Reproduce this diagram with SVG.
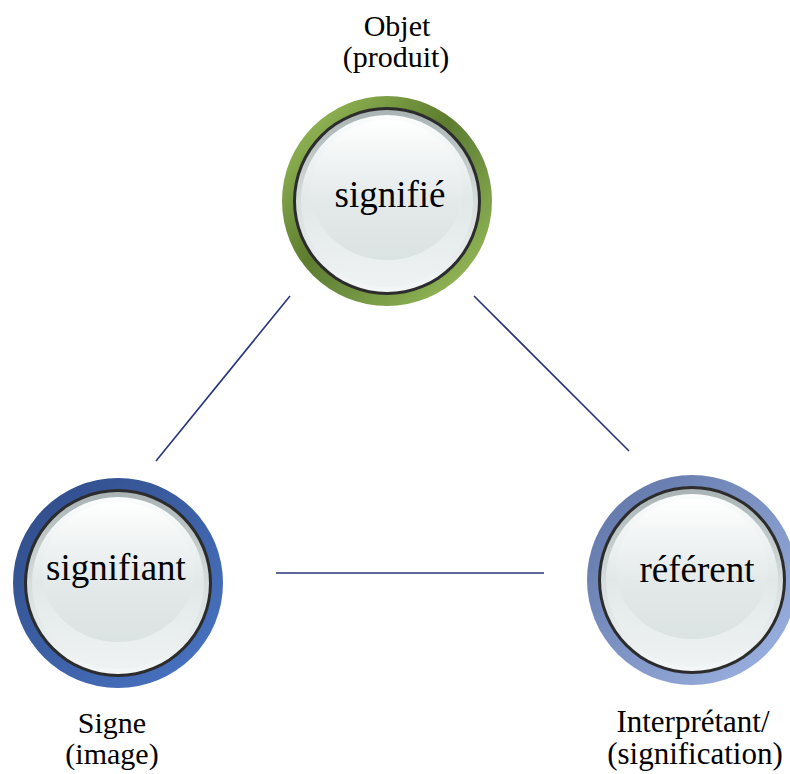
<svg xmlns="http://www.w3.org/2000/svg" width="790" height="774" viewBox="0 0 790 774">
<defs>
<style>
.lbl{font-size:30px;fill:#000;text-anchor:middle}
.lbl2{font-size:31px;fill:#000;text-anchor:middle}
.nt{font-size:37px;fill:#000;text-anchor:middle}
.edge{stroke:#27357a;stroke-width:1.6;fill:none}
.dark{fill:#2c2c2c}
.bevel{fill:url(#bevel)}
.face{fill:url(#face)}
.hl{fill:url(#hl)}
</style>
<linearGradient id="gGreen" x1="0" y1="0" x2="1" y2="1">
<stop offset="0" stop-color="#a2c862"/>
<stop offset="0.45" stop-color="#5d7c2e"/>
<stop offset="0.55" stop-color="#66873a"/>
<stop offset="1" stop-color="#9fc55e"/>
</linearGradient>
<linearGradient id="gBlue" x1="0" y1="0" x2="1" y2="1">
<stop offset="0" stop-color="#2f4a85"/>
<stop offset="1" stop-color="#4a76c6"/>
</linearGradient>
<linearGradient id="gLight" x1="0" y1="0" x2="1" y2="1">
<stop offset="0" stop-color="#5c72a4"/>
<stop offset="1" stop-color="#a0b6e6"/>
</linearGradient>
<linearGradient id="bevel" x1="0" y1="0" x2="0" y2="1">
<stop offset="0" stop-color="#a9b3b3"/>
<stop offset="0.5" stop-color="#d6dddd"/>
<stop offset="1" stop-color="#f4f7f7"/>
</linearGradient>
<linearGradient id="face" x1="0" y1="0" x2="0" y2="1">
<stop offset="0" stop-color="#fbfdfd"/>
<stop offset="0.5" stop-color="#e2e8e8"/>
<stop offset="1" stop-color="#eef2f2"/>
</linearGradient>
<linearGradient id="hl" x1="0" y1="0" x2="0" y2="1">
<stop offset="0" stop-color="#ffffff" stop-opacity="0.9"/>
<stop offset="0.55" stop-color="#e6ebeb" stop-opacity="0.6"/>
<stop offset="1" stop-color="#d2dada" stop-opacity="0.6"/>
</linearGradient>
</defs>
<rect width="790" height="774" fill="#ffffff"/>
<g id="connectors">
<line class="edge" x1="290" y1="296" x2="156" y2="461"/>
<line class="edge" x1="474" y1="296" x2="629" y2="451"/>
<line class="edge" x1="276" y1="573" x2="544" y2="573"/>
</g>
<g font-family="Liberation Serif, Times New Roman, DejaVu Serif, serif">
<g id="node-signifie">
<circle cx="387" cy="201" r="105" fill="url(#gGreen)"/>
<circle class="dark" cx="387" cy="201" r="94"/>
<circle class="bevel" cx="387" cy="201" r="91"/>
<circle class="face" cx="387" cy="201" r="86"/>
<ellipse class="hl" cx="387" cy="190" rx="76" ry="70"/>
<text class="nt" x="390" y="207">signifié</text>
</g>
<g id="node-signifiant">
<circle cx="118" cy="583" r="105" fill="url(#gBlue)"/>
<circle class="dark" cx="118" cy="583" r="94"/>
<circle class="bevel" cx="118" cy="583" r="91"/>
<circle class="face" cx="118" cy="583" r="86"/>
<ellipse class="hl" cx="118" cy="572" rx="76" ry="70"/>
<text class="nt" x="116" y="580">signifiant</text>
</g>
<g id="node-referent">
<circle cx="692" cy="580" r="105" fill="url(#gLight)"/>
<circle class="dark" cx="692" cy="580" r="94"/>
<circle class="bevel" cx="692" cy="580" r="91"/>
<circle class="face" cx="692" cy="580" r="86"/>
<ellipse class="hl" cx="692" cy="569" rx="76" ry="70"/>
<text class="nt" x="697" y="582">référent</text>
</g>
<g id="labels">
<text class="lbl" x="397" y="36">Objet</text>
<text class="lbl" x="396" y="67">(produit)</text>
<text class="lbl" x="112" y="733">Signe</text>
<text class="lbl" x="112" y="764">(image)</text>
<text class="lbl2" x="693" y="732">Interprétant/</text>
<text class="lbl2" x="695" y="764">(signification)</text>
</g>
</g>
</svg>
